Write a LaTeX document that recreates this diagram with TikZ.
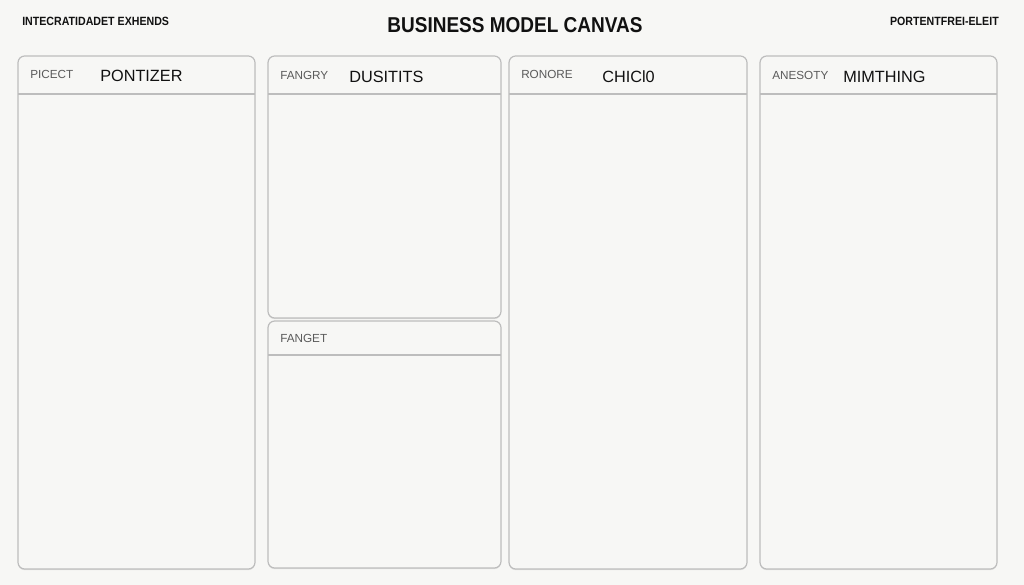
\documentclass[tikz,border=0pt]{standalone}
\usepackage{fontspec}
\setmainfont{Liberation Sans}
\usetikzlibrary{shadows}
\definecolor{bg}{HTML}{F7F7F5}
\definecolor{edge}{HTML}{BDBDBD}
\definecolor{lab}{HTML}{5A5A5A}
\definecolor{ink}{HTML}{111111}
\begin{document}
\begin{tikzpicture}[x=0.75pt,y=-0.75pt,
  panel/.style={draw=edge,line width=0.9pt,fill=bg,rounded corners=5pt,
    drop shadow={opacity=0.18,shadow xshift=0pt,shadow yshift=-0.9pt}},
  divider/.style={draw=edge,line width=0.9pt},
  smalllab/.style={anchor=west,inner sep=0pt,text=lab,font=\fontsize{8.8}{10}\selectfont},
  mainlab/.style={anchor=west,inner sep=0pt,text=ink,font=\fontsize{12.2}{14}\selectfont},
  toplab/.style={inner sep=0pt,text=ink,font=\bfseries\fontsize{8.3}{10}\selectfont},
  title/.style={inner sep=0pt,text=ink,font=\bfseries\fontsize{14.4}{16}\selectfont}]
\fill[bg] (0,0) rectangle (1024,585);
\useasboundingbox (0,0) rectangle (1024,585);

% panels
\draw[panel] (18,56) rectangle (255,569);
\draw[panel] (268,56) rectangle (501,318);
\draw[panel] (268,321) rectangle (501,568);
\draw[panel] (509,56) rectangle (747,569);
\draw[panel] (760,56) rectangle (997,569);

% header dividers
\draw[divider] (18,94) -- (255,94);
\draw[divider] (268,94) -- (501,94);
\draw[divider] (268,355) -- (501,355);
\draw[divider] (509,94) -- (747,94);
\draw[divider] (760,94) -- (997,94);

% top texts
\node[toplab,anchor=west] (tl) at (22,21) {\scalebox{0.96}[1.08]{INTECRATIDADET EXHENDS}};
\node[title] (ttl) at (515,25) {\scalebox{0.99}[1.12]{BUSINESS MODEL CANVAS}};
\node[toplab,anchor=east] (tr) at (999,21) {\scalebox{0.96}[1.08]{PORTENTFREI-ELEIT}};

% headers
\node[smalllab] (s1) at (30,74) {PICECT};
\node[mainlab] (m1) at (100,76) {PONTIZER};
\node[smalllab] (s2) at (280,75) {FANGRY};
\node[mainlab] (m2) at (349,77) {DUSITITS};
\node[smalllab] (s3) at (521,74) {RONORE};
\node[mainlab] (m3) at (602,77) {CHICl0};
\node[smalllab] (s4) at (772,75) {ANESOTY};
\node[mainlab] (m4) at (843,77) {MIMTHING};
\node[smalllab] (s5) at (280,338) {FANGET};
\end{tikzpicture}
\end{document}
